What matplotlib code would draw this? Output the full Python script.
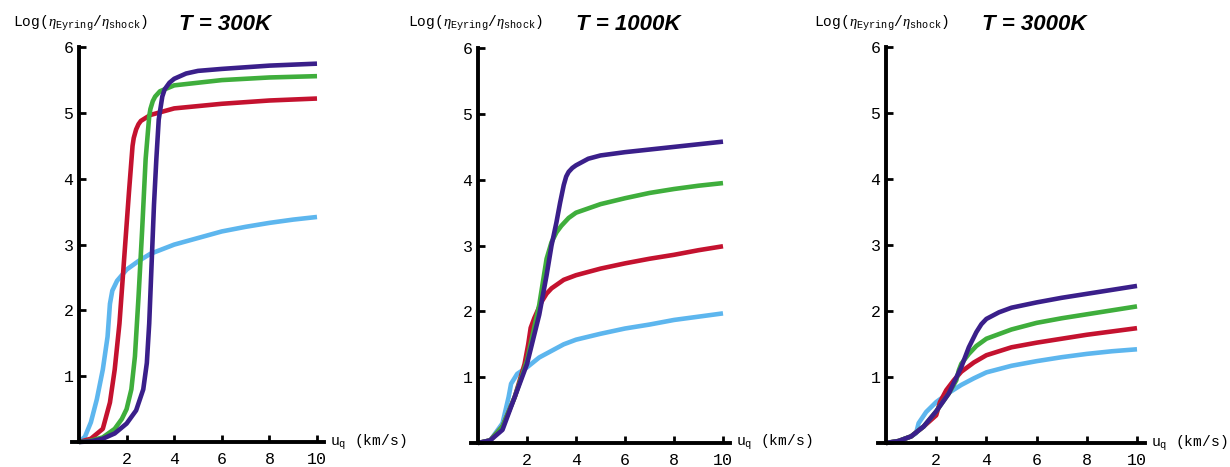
import matplotlib
matplotlib.use('Agg')
import matplotlib.pyplot as plt
import numpy as np

plt.rcParams['mathtext.fontset'] = 'custom'
plt.rcParams['mathtext.rm'] = 'Liberation Mono'
plt.rcParams['mathtext.tt'] = 'Liberation Mono'
plt.rcParams['mathtext.it'] = 'Liberation Serif:italic'

# data, (u_q, log ratio) pairs per curve
titles = ['T = 300K', 'T = 1000K', 'T = 3000K']
colors = {'blue': '#5db6ee', 'red': '#c4122f', 'green': '#3fae3c', 'purple': '#3a1f8a'}

#T = 300K
blue_300_x = [0, 0.25, 0.5, 0.75, 1.0, 1.2, 1.3, 1.4, 1.6, 2.0, 2.5, 3.0, 4, 5, 6, 7, 8, 9, 10]
blue_300_y = [0, 0.08, 0.3, 0.65, 1.1, 1.6, 2.1, 2.3, 2.45, 2.62, 2.75, 2.86, 3.0, 3.1, 3.2, 3.27, 3.33, 3.38, 3.42]
red_300_x = [0, 0.5, 1.0, 1.3, 1.5, 1.7, 1.9, 2.1, 2.25, 2.3, 2.4, 2.5, 2.6, 3.0, 4, 6, 8, 10]
red_300_y = [0, 0.05, 0.2, 0.6, 1.1, 1.8, 2.8, 3.8, 4.5, 4.62, 4.75, 4.83, 4.88, 4.97, 5.07, 5.14, 5.19, 5.22]
green_300_x = [0, 0.5, 1.0, 1.5, 1.8, 2.0, 2.2, 2.35, 2.5, 2.65, 2.8, 2.95, 3.0, 3.1, 3.2, 3.4, 4, 6, 8, 10]
green_300_y = [0, 0.02, 0.07, 0.2, 0.35, 0.5, 0.8, 1.3, 2.2, 3.2, 4.3, 4.95, 5.06, 5.18, 5.25, 5.33, 5.42, 5.5, 5.54, 5.56]
purple_300_x = [0, 0.5, 1.0, 1.5, 2.0, 2.4, 2.7, 2.85, 2.95, 3.05, 3.15, 3.25, 3.35, 3.5, 3.6, 3.8, 4.0, 4.5, 5, 6, 8, 10]
purple_300_y = [0, 0.01, 0.05, 0.13, 0.28, 0.48, 0.8, 1.2, 1.8, 2.7, 3.6, 4.3, 4.9, 5.25, 5.36, 5.46, 5.52, 5.6, 5.64, 5.67, 5.72, 5.75]

#T = 1000K
blue_1000_x = [0, 0.5, 1.0, 1.25, 1.35, 1.6, 2.0, 2.5, 3, 3.5, 4, 5, 6, 7, 8, 9, 10]
blue_1000_y = [0, 0.04, 0.3, 0.7, 0.9, 1.05, 1.15, 1.3, 1.4, 1.5, 1.57, 1.66, 1.74, 1.8, 1.87, 1.92, 1.97]
red_1000_x = [0, 0.5, 1.0, 1.5, 1.9, 2.05, 2.15, 2.3, 2.6, 2.8, 3.0, 3.5, 4, 5, 6, 7, 8, 9, 10]
red_1000_y = [0, 0.04, 0.25, 0.7, 1.2, 1.5, 1.75, 1.9, 2.15, 2.27, 2.35, 2.48, 2.55, 2.65, 2.73, 2.8, 2.86, 2.93, 2.99]
green_1000_x = [0, 0.5, 1.0, 1.5, 2.0, 2.5, 2.8, 3.0, 3.2, 3.4, 3.7, 4, 5, 6, 7, 8, 9, 10]
green_1000_y = [0, 0.04, 0.25, 0.7, 1.25, 2.1, 2.8, 3.05, 3.2, 3.3, 3.42, 3.5, 3.63, 3.72, 3.8, 3.86, 3.91, 3.95]
purple_1000_x = [0, 0.5, 1.0, 1.5, 2.0, 2.5, 2.8, 3.0, 3.2, 3.35, 3.5, 3.6, 3.7, 3.85, 4.0, 4.5, 5, 6, 7, 8, 9, 10]
purple_1000_y = [0, 0.04, 0.2, 0.7, 1.2, 1.95, 2.55, 3.0, 3.35, 3.65, 3.92, 4.05, 4.12, 4.18, 4.22, 4.32, 4.37, 4.42, 4.46, 4.5, 4.54, 4.58]

#T = 3000K
blue_3000_x = [0, 0.5, 1.0, 1.2, 1.3, 1.6, 2.0, 2.5, 3.0, 3.5, 4, 5, 6, 7, 8, 9, 10]
blue_3000_y = [0, 0.03, 0.1, 0.15, 0.3, 0.47, 0.62, 0.76, 0.88, 0.98, 1.07, 1.17, 1.24, 1.3, 1.35, 1.39, 1.42]
red_3000_x = [0, 0.5, 1.0, 1.5, 2.0, 2.15, 2.4, 2.7, 3.0, 3.5, 4, 5, 6, 7, 8, 9, 10]
red_3000_y = [0, 0.03, 0.1, 0.25, 0.42, 0.62, 0.8, 0.95, 1.08, 1.22, 1.33, 1.45, 1.52, 1.58, 1.64, 1.69, 1.74]
green_3000_x = [0, 0.5, 1.0, 1.5, 2.0, 2.5, 2.8, 2.9, 3.0, 3.3, 3.6, 4, 5, 6, 7, 8, 9, 10]
green_3000_y = [0, 0.03, 0.1, 0.25, 0.48, 0.75, 0.95, 1.1, 1.2, 1.35, 1.47, 1.58, 1.72, 1.82, 1.89, 1.95, 2.01, 2.07]
purple_3000_x = [0, 0.5, 1.0, 1.5, 2.0, 2.5, 3.0, 3.3, 3.6, 3.8, 4, 4.5, 5, 6, 7, 8, 9, 10]
purple_3000_y = [0, 0.03, 0.1, 0.25, 0.48, 0.75, 1.15, 1.45, 1.68, 1.8, 1.88, 1.98, 2.05, 2.13, 2.2, 2.26, 2.32, 2.38]

panels = [
    [(blue_300_x, blue_300_y, 'blue'), (red_300_x, red_300_y, 'red'),
     (green_300_x, green_300_y, 'green'), (purple_300_x, purple_300_y, 'purple')],
    [(blue_1000_x, blue_1000_y, 'blue'), (red_1000_x, red_1000_y, 'red'),
     (green_1000_x, green_1000_y, 'green'), (purple_1000_x, purple_1000_y, 'purple')],
    [(blue_3000_x, blue_3000_y, 'blue'), (red_3000_x, red_3000_y, 'red'),
     (green_3000_x, green_3000_y, 'green'), (purple_3000_x, purple_3000_y, 'purple')],
]

W, H = 1230, 467
fig = plt.figure(figsize=(W / 100, H / 100), dpi=100)

#pixel origin and scale of each panel (x0, px per unit x, y0 from top, px per unit y)
layout = [(79, 23.8, 442, 65.8), (478, 24.5, 443, 65.8), (886, 25.1, 443, 66.0)]
ylabel_x = [13, 408, 814]
title_cx = [225, 628, 1034]

xmin, xmax, ymin, ymax = -0.6, 10.6, -0.3, 6.2

for i, (x0, sx, y0, sy) in enumerate(layout):
    left = x0 + xmin * sx
    right = x0 + xmax * sx
    bottom = y0 - ymin * sy
    top = y0 - ymax * sy
    ax = fig.add_axes([left / W, 1 - bottom / H, (right - left) / W, (bottom - top) / H])
    ax.set_xlim(xmin, xmax)
    ax.set_ylim(ymin, ymax)
    ax.patch.set_alpha(0)

    for xs, ys, c in panels[i]:
        ax.plot(xs, ys, color=colors[c], lw=3.3, solid_capstyle='butt',
                solid_joinstyle='round', zorder=3)

    #Mathematica style axes crossing at the origin
    for s in ['top', 'right']:
        ax.spines[s].set_visible(False)
    ax.spines['left'].set_position(('data', 0))
    ax.spines['bottom'].set_position(('data', 0))
    ax.spines['left'].set_bounds(0, 6)
    ax.spines['bottom'].set_bounds(-0.3, 10.3)
    for s in ['left', 'bottom']:
        ax.spines[s].set_linewidth(2.8)
        ax.spines[s].set_zorder(4)
    ax.set_xticks([2, 4, 6, 8, 10])
    ax.set_yticks([1, 2, 3, 4, 5, 6])
    ax.tick_params(direction='in', length=5, width=2, labelsize=12)
    ax.tick_params(axis='x', pad=7)
    ax.tick_params(axis='y', pad=4)
    for lab in ax.get_xticklabels() + ax.get_yticklabels():
        lab.set_fontfamily('Liberation Mono')

    ax.text(10.55, 0, r'u$_\mathtt{q}$ (km/s)', fontsize=10.5, family='Liberation Mono',
            ha='left', va='center')

    fig.text(ylabel_x[i] / W, 1 - 24 / H,
             r'Log($\eta_{\mathtt{Eyring}}/\eta_{\mathtt{shock}}$)',
             fontsize=10.5, family='Liberation Mono', ha='left', va='center')
    fig.text(title_cx[i] / W, 1 - 24 / H, titles[i], fontsize=16, family='Liberation Sans',
             fontweight='bold', fontstyle='italic', ha='center', va='center')

fig.savefig('out.png', dpi=100)
